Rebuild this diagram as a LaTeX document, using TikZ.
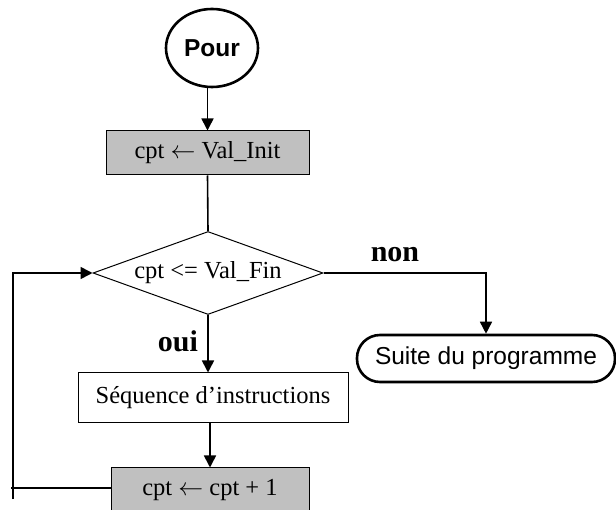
\documentclass[tikz,border=0pt]{standalone}
\usepackage{fontspec}
\setmainfont{Liberation Serif}
\setsansfont{Liberation Sans}
\usetikzlibrary{arrows.meta,shapes.geometric}
\definecolor{boxgray}{RGB}{192,192,192}
\newcommand{\assign}{\ensuremath{\leftarrow}}
\begin{document}
\begin{tikzpicture}[x=1pt,y=-1pt,
  every node/.style={font=\fontsize{24.5}{28}\selectfont, inner sep=0pt},
  conn/.style={line width=1.6pt, -{Triangle[length=12pt,width=12pt]}},
  plain/.style={line width=1.6pt},
  actionbox/.style={draw, line width=1pt, rectangle},
  graybox/.style={actionbox, fill=boxgray},
  terminal/.style={draw, line width=2.6pt, font=\fontsize{24.5}{28}\selectfont\sffamily},
  answer/.style={font=\fontsize{30}{34}\selectfont\bfseries}]
\useasboundingbox (0,0) rectangle (616,510);

% start terminal
\node[terminal, ellipse, minimum width=92pt, minimum height=78pt,
      font=\fontsize{24.5}{28}\selectfont\sffamily\bfseries] (pour) at (212,48) {Pour};

% initialisation
\node[graybox, minimum width=203pt, minimum height=44pt] (init) at (207.5,153) {cpt \assign{} Val\_Init};

% loop test
\node[draw, line width=1pt, diamond, aspect=2.77, minimum width=230pt, minimum height=83pt] (test) at (208,273) {cpt <= Val\_Fin};

% loop body
\node[actionbox, minimum width=270pt, minimum height=50pt] (seq) at (213,398) {Séquence d’instructions};

% increment
\node[graybox, minimum width=198pt, minimum height=44pt] (inc) at (210,490) {cpt \assign{} cpt + 1};

% exit terminal
\node[terminal, rectangle, rounded corners=23pt, minimum width=258pt, minimum height=47pt] (suite) at (486,358.5) {Suite du programme};

% labels
\node[answer] (non) at (395,255) {non};
\node[answer] (oui) at (178,341) {oui};

% connectors
\draw[conn] (init.north |- pour.south) -- (init.north);
\draw[plain] (init.south) -- (test.north);
\draw[conn] (test.south) -- (test.south |- seq.north);
\draw[conn] (seq.south -| inc.north) -- (inc.north);
\draw[conn] (test.east) -| (suite.north);

% back edge of the loop
\coordinate (backend) at (11,488);
\coordinate (backfoot) at (13,499);
\draw[plain] (inc.west |- 0,488) -- (backend);
\draw[conn] (backfoot) |- (test.west);
\end{tikzpicture}
\end{document}
